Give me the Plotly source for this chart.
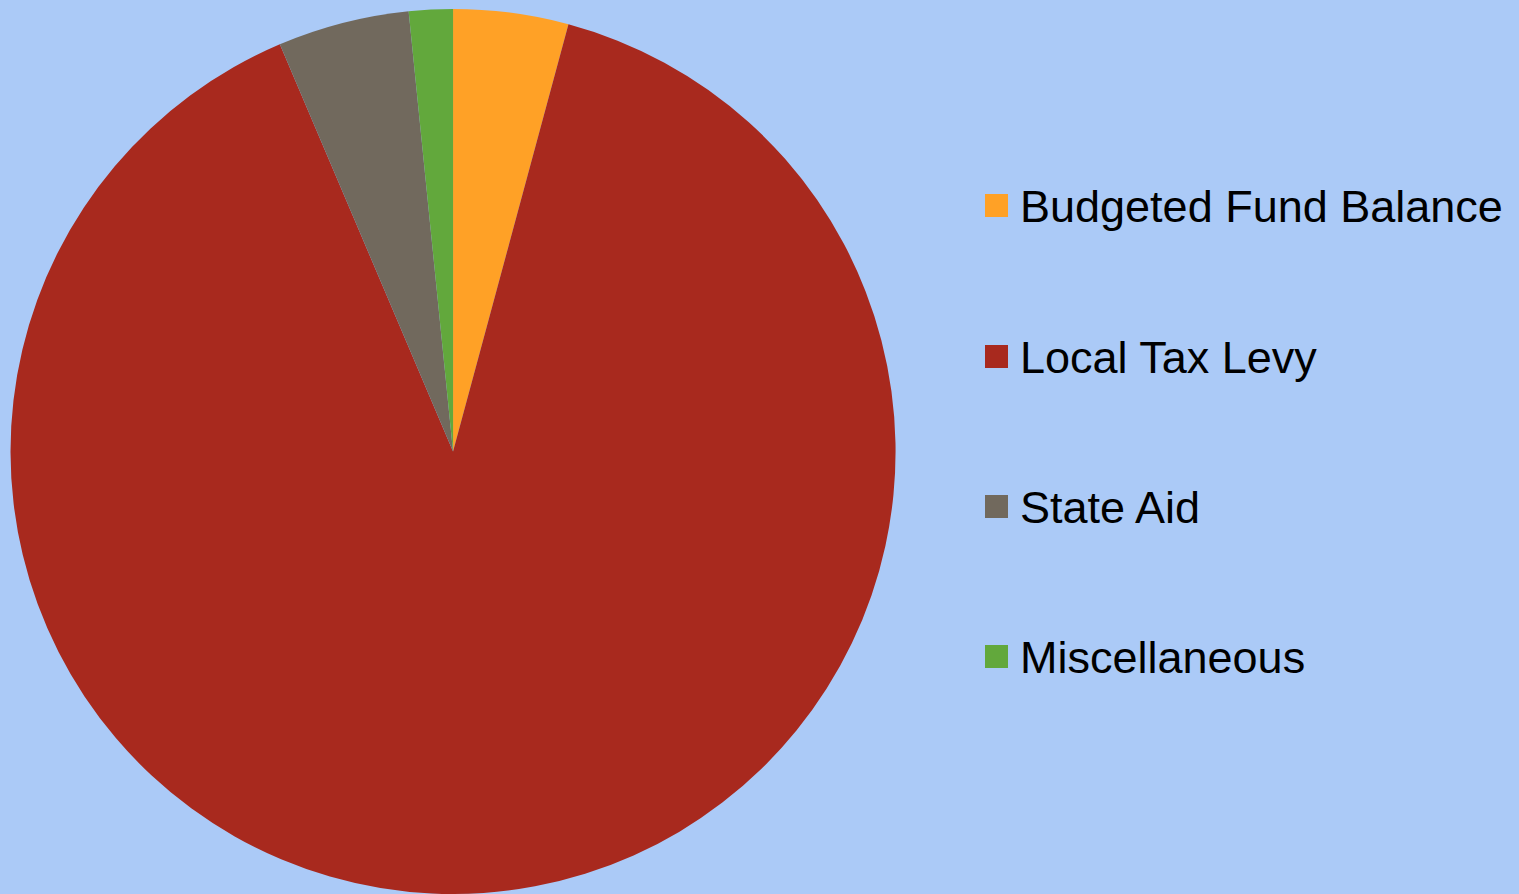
import plotly.graph_objects as go

labels = ["Budgeted Fund Balance", "Local Tax Levy", "State Aid", "Miscellaneous"]
values = [4.2, 89.4, 4.8, 1.6]
colors = ["#FFA126", "#A8291E", "#71695D", "#62A83C"]

W, H = 1519, 894
bg = "#ABCAF7"

fig = go.Figure()
fig.add_trace(go.Pie(
    labels=labels, values=values, sort=False, direction="clockwise", rotation=0,
    marker=dict(colors=colors, line=dict(width=0)),
    textinfo="none", hoverinfo="label+percent", showlegend=False,
    domain=dict(x=[0.0066, 0.5899], y=[0.0, 0.99]),
))

# legend drawn as shapes + text annotations
leg_y = [206, 357, 507, 657]
for lab, col, yy in zip(labels, colors, leg_y):
    fig.add_shape(type="rect", xref="paper", yref="paper",
                  x0=985 / W, x1=1008 / W, y0=1 - (yy + 11) / H, y1=1 - (yy - 12) / H,
                  fillcolor=col, line=dict(width=0))
    fig.add_annotation(x=1018 / W, y=1 - yy / H, xref="paper", yref="paper",
                       text=lab, showarrow=False, xanchor="left", yanchor="middle",
                       font=dict(family="Liberation Sans", size=45, color="#000000"))

fig.update_layout(
    width=W, height=H, margin=dict(l=0, r=0, t=0, b=0),
    paper_bgcolor=bg, plot_bgcolor=bg, showlegend=False,
)
fig.write_html(
    "out.html",
    config={"displayModeBar": False},
    post_script="document.body.style.margin='0';document.body.style.background='#ABCAF7';document.body.style.overflow='hidden';",
)
